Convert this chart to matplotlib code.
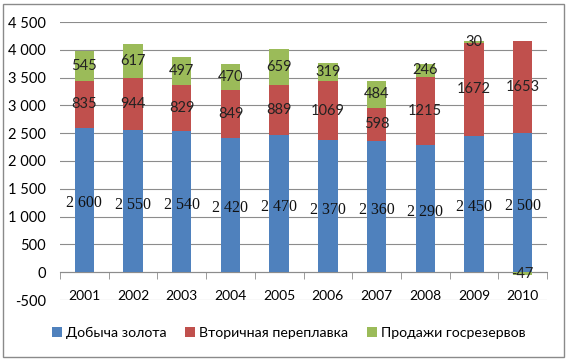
import matplotlib.pyplot as plt
from matplotlib.patches import Rectangle
import numpy as np

plt.rcParams['font.family'] = ['Lato', 'Open Sans', 'DejaVu Sans']

years = ['2001', '2002', '2003', '2004', '2005', '2006', '2007', '2008', '2009', '2010']
mining = [2600, 2550, 2540, 2420, 2470, 2370, 2360, 2290, 2450, 2500]
recycling = [835, 944, 829, 849, 889, 1069, 598, 1215, 1672, 1653]
reserves = [545, 617, 497, 470, 659, 319, 484, 246, 30, -47]

names = ['Добыча золота', 'Вторичная переплавка', 'Продажи госрезервов']
colors = ['#4F81BD', '#C0504D', '#9BBB59']
y_ticks = list(range(-500, 5000, 500))


def fmt(v):
    return f'{v:,}'.replace(',', ' ')


fig = plt.figure(figsize=(5.68, 3.64), dpi=100)
ax = fig.add_axes([60 / 568, 1 - 300 / 364, 487 / 568, 278 / 364])

x = np.arange(len(years))
pos_base = np.zeros(len(years))
neg_base = np.zeros(len(years))
for i, series in enumerate([mining, recycling, reserves]):
    vals = np.array(series, dtype=float)
    bottom = np.where(vals >= 0, pos_base, neg_base)
    ax.bar(x, vals, 0.4, bottom=bottom, color=colors[i], label=names[i], zorder=2)
    for xi, b, v in zip(x, bottom, vals):
        if i == 0:
            ax.text(xi, b + v / 2 - 60, fmt(int(v)), ha='center', va='center',
                    fontsize=11.5, family='Liberation Serif', color='#111111', zorder=3)
        else:
            ax.text(xi, b + v / 2, str(int(v)), ha='center', va='center',
                    fontsize=10.5, color='#222222', zorder=3)
    pos_base = pos_base + np.where(vals >= 0, vals, 0)
    neg_base = neg_base + np.where(vals < 0, vals, 0)

ax.set_xlim(-0.5, len(years) - 0.5)
ax.set_ylim(-500, 4500)
ax.set_yticks(y_ticks)
ax.set_yticklabels([fmt(t) for t in y_ticks], fontsize=10.5)
ax.tick_params(axis='y', length=0, pad=10)
ax.grid(axis='y', color='#8c8c8c', linewidth=0.8, zorder=0)

ax.set_xticks(x)
ax.set_xticklabels(years, fontsize=10.5)
ax.set_xticks(np.arange(-0.5, len(years)), minor=True)
ax.tick_params(axis='x', which='major', length=0, pad=13)
ax.tick_params(axis='x', which='minor', length=5, color='#8c8c8c', direction='out')

for s in ['top', 'right', 'left']:
    ax.spines[s].set_visible(False)
ax.spines['bottom'].set_position(('data', 0))
ax.spines['bottom'].set_color('#8c8c8c')
ax.spines['bottom'].set_zorder(1)

fig.legend(loc='center', bbox_to_anchor=(0.508, 1 - 333 / 364), ncol=3, frameon=False,
           fontsize=10.2, handlelength=0.7, handleheight=0.7, handletextpad=0.3,
           columnspacing=1.3)

fig.patches.append(Rectangle((3 / 568, 7 / 364), 561 / 568, 353 / 364, transform=fig.transFigure,
                             facecolor='none', edgecolor='#8a8a8a', linewidth=1, zorder=1))

fig.savefig('out.png', dpi=100)
